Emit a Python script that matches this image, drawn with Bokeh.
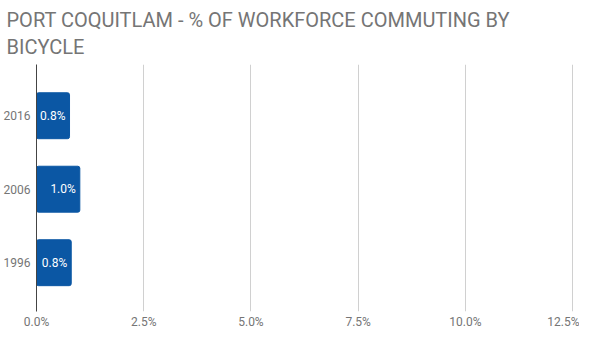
from bokeh.plotting import figure
from bokeh.models import ColumnDataSource, Range1d, FixedTicker, NumeralTickFormatter, Title
from bokeh.core.properties import value
from bokeh.embed import file_html
from bokeh.resources import INLINE

years = ["1996", "2006", "2016"]
shares = [0.81, 1.01, 0.77]
share_labels = ["0.8%", "1.0%", "0.8%"]
x_ticks = [0, 2.5, 5.0, 7.5, 10.0, 12.5]

ypos = list(range(len(years)))
src = ColumnDataSource(dict(y=ypos, v=shares, lab=share_labels))

p = figure(width=579, height=331, output_backend="svg", toolbar_location=None,
           x_range=Range1d(0, 12.66), y_range=Range1d(-0.664, 2.697),
           min_border_left=32, min_border_right=0, min_border_top=56, min_border_bottom=17)
p.outline_line_color = None
p.background_fill_color = "white"
p.border_fill_color = "white"

t = Title(text="PORT COQUITLAM - % OF WORKFORCE COMMUTING BY\nBICYCLE",
          text_font="Roboto", text_font_size="20px", text_font_style="normal",
          text_color="#757575", align="left", offset=-30, standoff=10, text_line_height=1.15)
p.add_layout(t, "above")

p.hbar(y="y", right="v", left=0, height=0.625, source=src, color="#0b57a4",
       border_radius=2)
p.text(x="v", y="y", text="lab", source=src, text_align="right", text_baseline="middle",
       x_offset=-4, text_color="white", text_font=value("Roboto"), text_font_size="12px")

for ax in (p.xaxis, p.yaxis):
    ax.major_tick_out = 0
    ax.major_tick_in = 0
    ax.minor_tick_out = 0
    ax.minor_tick_in = 0
    ax.major_tick_line_color = None
    ax.minor_tick_line_color = None
    ax.axis_label_standoff = 0
    ax.major_label_text_font = "Roboto"
    ax.major_label_text_font_size = "12px"
    ax.major_label_text_color = "#757575"

p.xaxis.ticker = FixedTicker(ticks=x_ticks)
p.xaxis.formatter = NumeralTickFormatter(format="0.0")
p.xaxis.major_label_overrides = {v: f"{v:.1f}%" for v in x_ticks}
p.xaxis.axis_line_color = None
p.xaxis.major_label_standoff = 3

p.yaxis.ticker = FixedTicker(ticks=ypos)
p.yaxis.major_label_overrides = {i: y for i, y in zip(ypos, years)}
p.yaxis.axis_line_color = "#444444"
p.yaxis.axis_line_width = 1
p.yaxis.major_label_standoff = 6

p.xgrid.ticker = FixedTicker(ticks=x_ticks[1:])
p.xgrid.grid_line_color = "#d0d0d0"
p.ygrid.grid_line_color = None

open("out.html", "w").write(file_html(p, INLINE))
